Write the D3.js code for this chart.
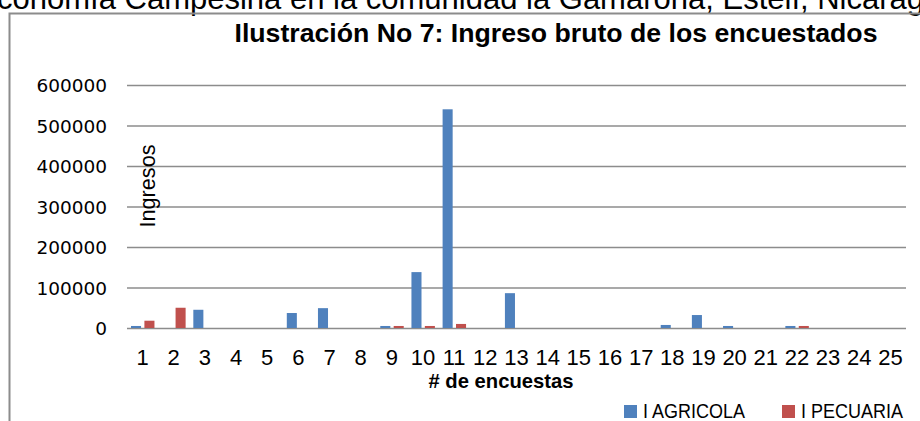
<!DOCTYPE html>
<html>
<head>
<meta charset="utf-8">
<script src="https://cdn.jsdelivr.net/npm/d3@7"></script>
<style>
  body { margin: 0; background: #fff; }
  svg { display: block; }
</style>
</head>
<body>
<div id="chart"></div>
<script>
var encuestas = d3.range(1, 26).map(String);
var series = ["I AGRICOLA", "I PECUARIA"];
var agricola = [5000, 0, 45000, 0, 0, 37000, 49000, 0, 5000, 138000, 540000, 0, 86000,
                0, 0, 0, 0, 7500, 32000, 5000, 0, 5000, 0, 0, 0];
var pecuaria = [18000, 50000, 0, 0, 0, 0, 0, 0, 5000, 5000, 10000, 0, 0,
                0, 0, 0, 0, 0, 0, 0, 0, 5000, 0, 0, 0];
var yTicks = [0, 100000, 200000, 300000, 400000, 500000, 600000];
var colors = ["#4f81bd", "#c0504d"];

var width = 920, height = 421;
var svg = d3.select("#chart").append("svg")
    .attr("width", width)
    .attr("height", height);

// text of the page above the chart, cut by the top edge
svg.append("text")
    .attr("x", -3)
    .attr("y", 9)
    .attr("font-family", "Liberation Sans, Arial, sans-serif")
    .attr("font-size", 31)
    .attr("fill", "#000")
    .text("conomía Campesina en la comunidad la Gamarona, Estelí, Nicaragua");

// chart frame (only top and left edges visible)
svg.append("path")
    .attr("d", "M9.5," + height + "V13.5H" + width)
    .attr("fill", "none")
    .attr("stroke", "#8c8c8c")
    .attr("stroke-width", 2);

var margin = {left: 127, right: 14, top: 85, bottom: 93};

var x = d3.scaleBand()
    .domain(encuestas)
    .range([margin.left, width - margin.right]);

var x1 = d3.scaleBand()
    .domain(series)
    .range([4, x.bandwidth() - 3.7])
    .paddingInner(0.25);

var y = d3.scaleLinear()
    .domain([0, 600000])
    .range([height - margin.bottom, margin.top]);

// y axis with gridlines
var yAxis = svg.append("g")
    .attr("transform", "translate(" + margin.left + ",0)")
    .call(d3.axisLeft(y).tickValues(yTicks).tickFormat(d3.format("d"))
      .tickSize(-(width - margin.left - margin.right)).tickPadding(20));
yAxis.select(".domain").remove();
yAxis.selectAll("line").attr("stroke", "#8c8c8c").attr("stroke-width", 1.6);
yAxis.selectAll("text")
    .attr("font-family", "DejaVu Sans, Verdana, sans-serif")
    .attr("font-size", 18.5)
    .attr("fill", "#000")
    .attr("dy", "0.36em");

var group = svg.append("g")
  .selectAll("g")
  .data(encuestas)
  .enter().append("g")
    .attr("transform", function(d) { return "translate(" + x(d) + ",0)"; });

group.selectAll("rect")
  .data(function(d, i) { return [agricola[i], pecuaria[i]].map(function(v, j) { return {key: series[j], value: v}; }); })
  .enter().append("rect")
    .filter(function(d) { return d.value > 0; })
    .attr("x", function(d) { return x1(d.key); })
    .attr("y", function(d) { return y(d.value); })
    .attr("width", x1.bandwidth())
    .attr("height", function(d) { return y(0) - y(d.value); })
    .attr("fill", function(d) { return colors[series.indexOf(d.key)]; });

// x axis
var xAxis = svg.append("g")
    .attr("transform", "translate(0," + y(0) + ")")
    .call(d3.axisBottom(x).tickSize(0).tickPadding(21));
xAxis.select(".domain").remove();
xAxis.selectAll("text")
    .attr("font-family", "Liberation Sans Narrow, Arial Narrow, Liberation Sans, sans-serif")
    .attr("font-size", 22)
    .attr("fill", "#000");

// title
svg.append("text")
    .attr("x", 556)
    .attr("y", 42)
    .attr("text-anchor", "middle")
    .attr("font-family", "Liberation Sans Narrow, Liberation Sans, sans-serif")
    .attr("font-weight", "bold")
    .attr("font-size", 25)
    .attr("textLength", 643)
    .attr("lengthAdjust", "spacingAndGlyphs")
    .text("Ilustración No 7: Ingreso bruto de los encuestados");

// axis titles
svg.append("text")
    .attr("transform", "translate(155,186) rotate(-90)")
    .attr("text-anchor", "middle")
    .attr("font-family", "Liberation Sans Narrow, Liberation Sans, sans-serif")
    .attr("font-size", 22)
    .attr("textLength", 83)
    .attr("lengthAdjust", "spacingAndGlyphs")
    .text("Ingresos");

svg.append("text")
    .attr("x", 501)
    .attr("y", 388)
    .attr("text-anchor", "middle")
    .attr("font-family", "Liberation Sans Narrow, Liberation Sans, sans-serif")
    .attr("font-weight", "bold")
    .attr("font-size", 21)
    .attr("textLength", 145)
    .attr("lengthAdjust", "spacingAndGlyphs")
    .text("# de encuestas");

// legend
var legend = svg.append("g")
  .selectAll("g")
  .data(series)
  .enter().append("g")
    .attr("transform", function(d, i) { return "translate(" + (624 + i * 158) + ",405)"; });

legend.append("rect")
    .attr("width", 13)
    .attr("height", 13)
    .attr("fill", function(d, i) { return colors[i]; });

legend.append("text")
    .attr("x", 19)
    .attr("y", 13)
    .attr("font-family", "Liberation Sans Narrow, Liberation Sans, sans-serif")
    .attr("font-size", 20)
    .attr("textLength", 102)
    .attr("lengthAdjust", "spacingAndGlyphs")
    .text(function(d) { return d; });
</script>
</body>
</html>
